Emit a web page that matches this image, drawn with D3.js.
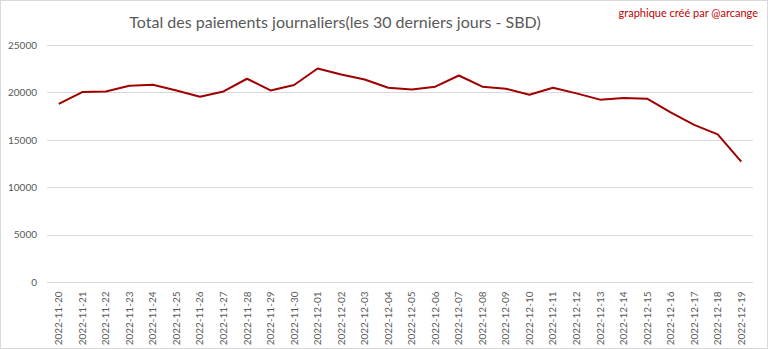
<!DOCTYPE html>
<html><head><meta charset="utf-8">
<script src="https://cdn.jsdelivr.net/npm/d3@7"></script>
<style>body{margin:0;background:#fff}svg{display:block}</style>
</head><body>
<svg id="c" width="768" height="349"></svg>
<script>
const dates = ["2022-11-20","2022-11-21","2022-11-22","2022-11-23","2022-11-24","2022-11-25","2022-11-26","2022-11-27","2022-11-28","2022-11-29","2022-11-30","2022-12-01","2022-12-02","2022-12-03","2022-12-04","2022-12-05","2022-12-06","2022-12-07","2022-12-08","2022-12-09","2022-12-10","2022-12-11","2022-12-12","2022-12-13","2022-12-14","2022-12-15","2022-12-16","2022-12-17","2022-12-18","2022-12-19"];
const payments = [18780,20040,20100,20700,20800,20210,19550,20100,21440,20210,20780,22520,21890,21360,20490,20310,20600,21780,20600,20390,19760,20490,19900,19235,19410,19340,17900,16580,15570,12700];
const yTicks = [0,5000,10000,15000,20000,25000];
const title = "Total des paiements journaliers(les 30 derniers jours - SBD)";
const credit = "graphique créé par @arcange";

(function(){
const svg = d3.select("#c");
const font = "Lato, 'Open Sans', sans-serif";
const pL = 47, pR = 753, pT = 45, pB = 282;

svg.append("rect").attr("x",0.5).attr("y",0.5).attr("width",767).attr("height",348)
  .attr("fill","#fff").attr("stroke","#d9d9d9");

const x = d3.scaleBand().domain(dates).range([pL,pR]);
const y = d3.scaleLinear().domain([0,25000]).range([pB,pT]);

svg.append("g").selectAll("line").data(yTicks.filter(d=>d>0)).join("line")
  .attr("x1",pL).attr("x2",pR).attr("y1",d=>Math.round(y(d))+0.5).attr("y2",d=>Math.round(y(d))+0.5)
  .attr("stroke","#d9d9d9").attr("stroke-width",1);

const ya = svg.append("g").attr("transform",`translate(${pL},0)`)
  .call(d3.axisLeft(y).tickValues(yTicks).tickSize(0).tickPadding(10).tickFormat(d3.format("d")));
ya.select(".domain").remove();
ya.selectAll("text").attr("fill","#595959").style("font-family",font).style("font-size","10px");

const xa = svg.append("g").attr("transform",`translate(0,${Math.round(pB)+0.5})`)
  .call(d3.axisBottom(x).tickSize(0).tickPadding(0));
xa.select(".domain").attr("stroke","#d9d9d9").attr("d",`M${pL},0H${pR}`);
xa.selectAll("text").attr("fill","#595959").style("font-family",font).style("font-size","10px")
  .attr("transform","rotate(-90)").attr("text-anchor","end").attr("x",-9).attr("y",0).attr("dy","0.35em");

svg.append("path").datum(payments.map((v,i)=>[dates[i],v]))
  .attr("fill","none").attr("stroke","#a00000").attr("stroke-width",2).attr("stroke-linejoin","round")
  .attr("d",d3.line().x(d=>x(d[0])+x.bandwidth()/2).y(d=>y(d[1])));

svg.append("text").attr("x",335).attr("y",28).attr("text-anchor","middle")
  .attr("fill","#595959").style("font-family",font).style("font-size","16px").text(title);
svg.append("text").attr("x",758).attr("y",17).attr("text-anchor","end")
  .attr("fill","#c00000").style("font-family",font).style("font-size","11px").text(credit);
})();
</script>
</body></html>
